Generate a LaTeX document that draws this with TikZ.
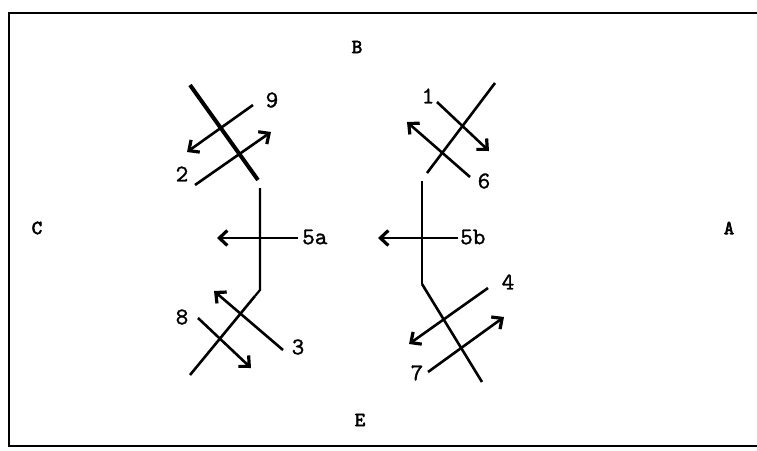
\documentclass[tikz,border=0pt]{standalone}
\usepackage{fontspec}
\newfontfamily\lettersfont[FakeBold=3]{lmmono10-regular.otf}
\newfontfamily\digitsfont[FakeBold=1.2]{lmmono10-regular.otf}
\usetikzlibrary{arrows.meta}
\begin{document}
\begin{tikzpicture}[x=1pt,y=-1pt,
  flow/.style={line width=2.6pt,-{Straight Barb[length=8pt,width=15pt,line width=3.2pt]}},
  crack/.style={line width=2.6pt},
  heavy/.style={line width=4pt},
  stem/.style={line width=2.2pt},
  num/.style={font=\digitsfont\fontsize{24}{24}\selectfont,inner sep=0pt},
  side/.style={font=\lettersfont\fontsize{20}{20}\selectfont,inner sep=0pt}]
\useasboundingbox (0,0) rectangle (757,450);
% frame
\draw[line width=2.6pt] (757,13) -- (9,13) -- (9,446) -- (757,446);
% side letters
\node[side] (B) at (357,47) {B};
\node[side] (C) at (37,228) {C};
\node[side] (A) at (729,228) {A};
\node[side] (E) at (360,420) {E};
% upper left group
\coordinate (ul1) at (190,85);
\coordinate (ul2) at (258,180);
\draw[heavy] (ul1) -- (ul2);
\coordinate (t9) at (253,105); \coordinate (h9) at (187,152);
\draw[flow] (t9) -- (h9);
\node[num] (n9) at (272,100) {9};
\coordinate (t2) at (195,185); \coordinate (h2) at (271,132);
\draw[flow] (t2) -- (h2);
\node[num] (n2) at (182,174) {2};
% left stem
\coordinate (s1) at (260,188);
\coordinate (s2) at (260,290);
\coordinate (s3) at (255,296);
\coordinate (ll) at (190,375);
\draw[stem] (s1) -- (s2) -- (s3);
\draw[crack] (s3) -- (ll);
\coordinate (t5a) at (298,238); \coordinate (h5a) at (217,238);
\draw[flow] (t5a) -- (h5a);
\node[num,anchor=west] (n5a) at (302,237) {5a};
% lower left group
\coordinate (t3) at (283,350); \coordinate (h3) at (214,291);
\draw[flow] (t3) -- (h3);
\node[num] (n3) at (298,347) {3};
\coordinate (t8) at (198,318); \coordinate (h8) at (251,368);
\draw[flow] (t8) -- (h8);
\node[num] (n8) at (182,317) {8};
% upper right group
\coordinate (ur1) at (495,83);
\coordinate (ur2) at (427,173);
\draw[crack] (ur1) -- (ur2);
\coordinate (t1) at (437,102); \coordinate (h1) at (489,151);
\draw[flow] (t1) -- (h1);
\node[num] (n1) at (428,96) {1};
\coordinate (t6) at (470,177); \coordinate (h6) at (407,122);
\draw[flow] (t6) -- (h6);
\node[num] (n6) at (484,181) {6};
% right stem
\coordinate (r1) at (422,181);
\coordinate (r2) at (422,284);
\coordinate (rl) at (482,382);
\draw[stem] (r1) -- (r2);
\draw[crack] (r2) -- (rl);
\coordinate (t5b) at (458,238); \coordinate (h5b) at (378,238);
\draw[flow] (t5b) -- (h5b);
\node[num,anchor=west] (n5b) at (460,237) {5b};
% lower right group
\coordinate (t4) at (488,288); \coordinate (h4) at (409,344);
\draw[flow] (t4) -- (h4);
\node[num] (n4) at (508,282) {4};
\coordinate (t7) at (428,372); \coordinate (h7) at (504,317);
\draw[flow] (t7) -- (h7);
\node[num] (n7) at (417,373) {7};
\end{tikzpicture}
\end{document}
